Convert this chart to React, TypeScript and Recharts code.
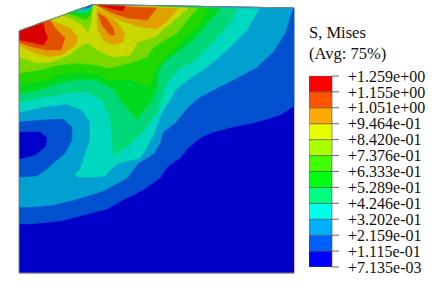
import React from "react";
import { ScatterChart, Scatter, XAxis, YAxis, BarChart, Bar } from "recharts";

type Pt = [number, number];

// band colours of the contour plot, low to high
const plotColors = ["#0000c8", "#0050d0", "#00a0d0", "#00d8c0", "#00d878", "#00d820", "#20d800", "#78d800", "#c8d800", "#e0a000", "#e05000", "#d80000"];
const legendColors = ["#0000ff", "#0060ff", "#00b0ff", "#00ffe8", "#00ff80", "#00ff10", "#40ff00", "#aaff00", "#e8ff00", "#ffaa00", "#ff5500", "#ff0000"];
const legendValues = [0.007135, 0.1115, 0.2159, 0.3202, 0.4246, 0.5289, 0.6333, 0.7376, 0.842, 0.9464, 1.051, 1.155, 1.259];
const legendLabels = ["+7.135e-03", "+1.115e-01", "+2.159e-01", "+3.202e-01", "+4.246e-01", "+5.289e-01", "+6.333e-01", "+7.376e-01", "+8.420e-01", "+9.464e-01", "+1.051e+00", "+1.155e+00", "+1.259e+00"];

const outline: Pt[] = [[19, 31], [93, 4.5], [294, 8], [294, 273], [19, 273]];
const band1: Pt[] = [[19, 224], [30, 224], [60, 221], [80, 216], [107, 209], [123, 200], [143, 190], [150, 185], [160, 178], [168, 166], [180, 158], [188, 148], [200, 138], [213, 132], [233, 127], [257, 122], [280, 115], [294, 106], [294, 8], [93, 4.5], [19, 31]];
const band2: Pt[] = [[19, 207], [30, 207], [53, 205], [77, 199], [97, 193], [105, 190], [127, 178], [138, 163], [147, 158], [154, 153], [160, 143], [163, 132], [175, 123], [183, 113], [188, 107], [200, 97], [217, 88], [237, 78], [257, 67], [273, 52], [285, 33], [293, 8], [93, 4.5], [19, 31]];
const hole1: Pt[] = [[19, 122], [43, 120], [63, 119], [72, 127], [72, 140], [65, 153], [57, 160], [48, 168], [37, 176], [19, 177]];
const hole0: Pt[] = [[19, 132], [40, 132], [47, 138], [45, 147], [35, 155], [19, 159]];
const band3: Pt[] = [[19, 112], [43, 107], [67, 104], [82, 110], [90, 122], [90, 140], [85, 155], [82, 163], [80, 170], [75, 174], [78, 177], [93, 177], [105, 176], [110, 170], [117, 164], [127, 161], [140, 158], [147, 147], [154, 133], [162, 112], [170, 100], [175, 90], [190, 78], [207, 67], [227, 50], [247, 30], [259, 8.8], [93, 4.5], [19, 31]];
const band4: Pt[] = [[19, 103], [40, 98], [67, 93], [87, 92], [102, 100], [110, 117], [113, 155], [123, 150], [143, 132], [157, 113], [162, 100], [167, 83], [180, 68], [193, 62], [213, 42], [230, 23], [237, 8.7], [93, 4.5], [19, 31]];
const band5: Pt[] = [[19, 94], [39, 90], [59, 83], [79, 80], [95, 80], [112, 88], [122, 102], [137, 119], [152, 100], [157, 88], [158, 73], [163, 63], [180, 50], [193, 40], [208, 23], [221, 8.5], [93, 4.5], [19, 31]];
const band6: Pt[] = [[19, 85], [39, 82], [59, 75], [79, 72], [95, 74], [110, 80], [130, 80], [147, 86], [152, 82], [155, 70], [165, 57], [187, 37], [200, 25], [208, 8.3], [93, 4.5], [19, 31]];
const band7: Pt[] = [[19, 73], [39, 70], [59, 65], [79, 63], [95, 65], [110, 68], [130, 63], [147, 57], [153, 48], [165, 40], [177, 33], [187, 20], [198, 8.2], [93, 4.5], [19, 31]];
const band8: Pt[] = [[19, 57], [36, 63], [52, 62], [69, 55], [82, 45], [88, 43], [97, 50], [113, 57], [130, 55], [138, 42], [155, 37], [160, 32], [173, 21], [188, 8], [93, 4.5], [19, 31]];
// fan of low values running into the peak
const fan7: Pt[] = [[62, 15], [72, 19], [82, 25], [88, 32], [91, 22], [93, 4.5]];
const fan6: Pt[] = [[67, 13], [78, 17], [85, 20], [90, 16], [93, 4.5]];
const fan5: Pt[] = [[70, 12], [80, 15], [88, 15], [93, 4.5]];
const fan4: Pt[] = [[72, 11.5], [82, 13], [90, 11], [93, 4.5]];
const fan3: Pt[] = [[75, 10], [84, 11], [91, 8], [93, 4.5]];
const fan2: Pt[] = [[78, 9.5], [86, 9.5], [92, 6], [93, 4.5]];
const fan1: Pt[] = [[82, 8], [89, 7.5], [93, 4.5]];
// hot spot on the left
const left9: Pt[] = [[19, 45], [32, 52], [49, 57], [62, 55], [76, 45], [78, 37], [70, 28], [53, 21], [48, 20], [19, 31]];
const left10: Pt[] = [[19, 42], [29, 46], [46, 50], [61, 50], [65, 38], [55, 28], [50, 20], [19, 31]];
const left11: Pt[] = [[19, 40], [30, 42], [43, 45], [48, 38], [45, 32], [43, 22], [19, 31]];
// lobes on the right of the peak
const lobe9: Pt[] = [[97, 8], [97, 20], [98, 30], [103, 40], [113, 45], [123, 42], [125, 33], [117, 22], [103, 12]];
const lobe10: Pt[] = [[98, 13], [102, 25], [110, 35], [115, 35], [113, 28], [105, 17]];
const top9: Pt[] = [[95, 5], [178, 8.5], [167, 21], [157, 29], [140, 27], [127, 23], [110, 16]];
const top10: Pt[] = [[97, 5.5], [157, 8], [147, 20], [127, 18], [110, 12]];
const top11: Pt[] = [[98, 5], [125, 6], [123, 11], [112, 9]];

const layers: { level: number; points: Pt[] }[] = [
  { level: 0, points: outline },
  { level: 1, points: band1 },
  { level: 2, points: band2 },
  { level: 1, points: hole1 },
  { level: 0, points: hole0 },
  { level: 3, points: band3 },
  { level: 4, points: band4 },
  { level: 5, points: band5 },
  { level: 6, points: band6 },
  { level: 7, points: band7 },
  { level: 8, points: band8 },
  { level: 7, points: fan7 },
  { level: 6, points: fan6 },
  { level: 5, points: fan5 },
  { level: 4, points: fan4 },
  { level: 3, points: fan3 },
  { level: 2, points: fan2 },
  { level: 1, points: fan1 },
  { level: 9, points: left9 },
  { level: 10, points: left10 },
  { level: 11, points: left11 },
  { level: 9, points: lobe9 },
  { level: 10, points: lobe10 },
  { level: 9, points: top9 },
  { level: 10, points: top10 },
  { level: 11, points: top11 },
];

const toRows = (points: Pt[]) => points.map(([x, y]) => ({ x, y }));
const edgeRows = toRows([[294, 8], [93, 4.5], [19, 31], [19, 273], [294, 273]]);

const legendRow: Record<string, number | string> = { name: "S", base: legendValues[0] };
legendColors.forEach((_, i) => {
  legendRow[`b${i}`] = legendValues[i + 1] - legendValues[i];
});

const serif = '"Liberation Serif", serif';
const noMark = () => <g />;

export default function App() {
  return (
    <div style={{ position: "absolute", left: 0, top: 0, width: 433, height: 283, background: "#fff", overflow: "hidden" }}>
      <div style={{ position: "absolute", left: 0, top: 0 }}>
        <ScatterChart width={304} height={283} margin={{ top: 3, right: 10, bottom: 10, left: 19 }}>
          <XAxis type="number" dataKey="x" domain={[19, 294]} hide />
          <YAxis type="number" dataKey="y" domain={[3, 273]} reversed hide />
          {layers.map((layer, i) => (
            <Scatter
              key={i}
              data={toRows(layer.points)}
              isAnimationActive={false}
              shape={noMark}
              line={{ fill: plotColors[layer.level], stroke: plotColors[layer.level], strokeWidth: 0.5 }}
            />
          ))}
          <Scatter
            data={edgeRows}
            isAnimationActive={false}
            shape={noMark}
            line={{ fill: "none", stroke: "#808080", strokeWidth: 1 }}
          />
        </ScatterChart>
      </div>

      <div style={{ position: "absolute", left: 309, top: 22, fontFamily: serif, fontSize: 16.5, lineHeight: "21px", color: "#111" }}>
        S, Mises
        <br />
        (Avg: 75%)
      </div>

      <div style={{ position: "absolute", left: 309, top: 0 }}>
        <BarChart
          width={124}
          height={283}
          data={[legendRow]}
          margin={{ top: 76, right: 0, bottom: 16, left: 0 }}
          barCategoryGap={0}
        >
          <XAxis type="category" dataKey="name" hide />
          <YAxis
            type="number"
            orientation="right"
            width={101}
            domain={[legendValues[0], legendValues[12]]}
            ticks={legendValues}
            interval={0}
            allowDataOverflow
            axisLine={false}
            tickSize={7}
            tickMargin={9}
            tickLine={{ stroke: "#666" }}
            tick={{ fill: "#111", fontSize: 16, fontFamily: serif }}
            tickFormatter={(_v: number, i: number) => legendLabels[i]}
          />
          <Bar dataKey="base" stackId="a" fill="none" isAnimationActive={false} />
          {legendColors.map((color, i) => (
            <Bar key={i} dataKey={`b${i}`} stackId="a" fill={color} stroke="#555" strokeWidth={0.6} isAnimationActive={false} />
          ))}
        </BarChart>
      </div>
    </div>
  );
}
